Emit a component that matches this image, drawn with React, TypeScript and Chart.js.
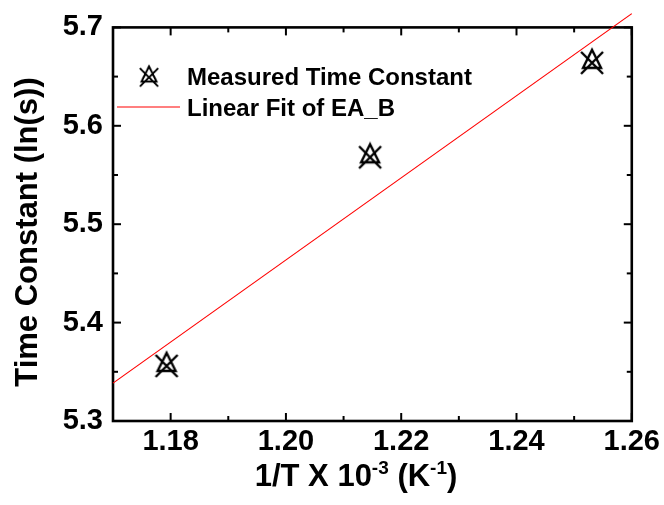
import React, { useEffect, useRef } from "react";
import { Chart, registerables } from "chart.js";

Chart.register(...registerables);

// ---- data ----
const xValues = [1.1793, 1.2146, 1.2531];
const timeConstant = [5.357, 5.569, 5.665];
const fitX = [1.17, 1.26];
const fitY = [5.3385, 5.714];

const xMajorTicks = [1.18, 1.2, 1.22, 1.24, 1.26];
const xMinorTicks = [1.19, 1.21, 1.23, 1.25];
const yMajorTicks = [5.3, 5.4, 5.5, 5.6, 5.7];
const yMinorTicks = [5.35, 5.45, 5.55, 5.65];

const seriesLabels = ["Measured Time Constant", "Linear Fit of EA_B"];
const yTitle = "Time Constant (ln(s))";
const xTitleParts = [
  { text: "1/T X 10", sup: false },
  { text: "-3", sup: true },
  { text: " (K", sup: false },
  { text: "-1", sup: true },
  { text: ")", sup: false },
];

const FONT = "'Liberation Sans', Arial, Helvetica, sans-serif";

function makeMarker(): HTMLCanvasElement {
  const c = document.createElement("canvas");
  const s = 30;
  c.width = s;
  c.height = s;
  const g = c.getContext("2d")!;
  g.strokeStyle = "#000";
  g.lineWidth = 2.4;
  g.lineJoin = "miter";
  const cx = 15;
  const cy = 15;
  g.beginPath();
  g.moveTo(cx - 11, cy - 10);
  g.lineTo(cx + 11, cy + 12);
  g.moveTo(cx + 11, cy - 10);
  g.lineTo(cx - 11, cy + 12);
  g.stroke();
  g.beginPath();
  g.moveTo(cx, cy - 12);
  g.lineTo(cx + 9, cy + 6);
  g.lineTo(cx - 9, cy + 6);
  g.closePath();
  g.stroke();
  return c;
}

export default function App() {
  const ref = useRef<HTMLCanvasElement>(null);

  useEffect(() => {
    const marker = makeMarker();

    const decorPlugin = {
      id: "decor",
      beforeDatasetsDraw(chart: any) {
        const { ctx, chartArea: a, scales } = chart;
        const x = scales.x;
        const y = scales.y;
        ctx.save();
        ctx.strokeStyle = "#000";
        ctx.lineWidth = 2.6;
        ctx.strokeRect(a.left, a.top, a.right - a.left, a.bottom - a.top);
        ctx.lineWidth = 2;
        const seg = (x1: number, y1: number, x2: number, y2: number) => {
          ctx.beginPath();
          ctx.moveTo(x1, y1);
          ctx.lineTo(x2, y2);
          ctx.stroke();
        };
        const xt = (vals: number[], len: number) =>
          vals.forEach((v) => {
            const p = x.getPixelForValue(v);
            seg(p, a.bottom, p, a.bottom - len);
            seg(p, a.top, p, a.top + len);
          });
        const yt = (vals: number[], len: number) =>
          vals.forEach((v) => {
            const p = y.getPixelForValue(v);
            seg(a.left, p, a.left + len, p);
            seg(a.right, p, a.right - len, p);
          });
        xt(xMajorTicks, 8);
        xt(xMinorTicks, 5);
        yt(yMajorTicks, 8);
        yt(yMinorTicks, 5);
        ctx.restore();
      },
      afterDraw(chart: any) {
        const { ctx } = chart;
        ctx.save();
        ctx.fillStyle = "#000";
        // y title
        ctx.save();
        ctx.translate(37, 232);
        ctx.rotate(-Math.PI / 2);
        ctx.font = `bold 31px ${FONT}`;
        ctx.textAlign = "center";
        ctx.textBaseline = "alphabetic";
        ctx.fillText(yTitle, 0, 0);
        ctx.restore();

        // x title with superscripts
        const mainFont = `bold 31px ${FONT}`;
        const supFont = `bold 19px ${FONT}`;
        let total = 0;
        xTitleParts.forEach((p) => {
          ctx.font = p.sup ? supFont : mainFont;
          total += ctx.measureText(p.text).width;
        });
        let cx = 356 - total / 2;
        ctx.textAlign = "left";
        ctx.textBaseline = "alphabetic";
        xTitleParts.forEach((p) => {
          ctx.font = p.sup ? supFont : mainFont;
          ctx.fillText(p.text, cx, p.sup ? 474 : 486);
          cx += ctx.measureText(p.text).width;
        });

        // legend
        const ds = chart.data.datasets;
        ctx.drawImage(marker, 149 - 12.5, 76.5 - 12.5, 25, 25);
        ctx.strokeStyle = ds[1].borderColor;
        ctx.lineWidth = 1.2;
        ctx.beginPath();
        ctx.moveTo(117, 107);
        ctx.lineTo(180, 107);
        ctx.stroke();
        ctx.font = `bold 24px ${FONT}`;
        ctx.fillStyle = "#000";
        ctx.fillText(ds[0].label, 187, 85);
        ctx.fillText(ds[1].label, 187, 116);
        ctx.restore();
      },
    };

    const chart = new Chart(ref.current!, {
      type: "scatter",
      data: {
        datasets: [
          {
            label: seriesLabels[0],
            data: xValues.map((v, i) => ({ x: v, y: timeConstant[i] })),
            pointStyle: marker as any,
            pointRadius: 12,
            showLine: false,
          },
          {
            label: seriesLabels[1],
            data: fitX.map((v, i) => ({ x: v, y: fitY[i] })),
            showLine: true,
            borderColor: "#ff0000",
            borderWidth: 1.2,
            pointRadius: 0,
            clip: false as any,
          },
        ],
      },
      options: {
        animation: false,
        responsive: false,
        devicePixelRatio: 1,
        layout: { padding: { top: 22, right: 32, left: 0, bottom: 0 } },
        plugins: { legend: { display: false }, tooltip: { enabled: false } },
        events: [],
        scales: {
          x: {
            type: "linear",
            min: 1.17,
            max: 1.26,
            afterBuildTicks: (axis: any) => {
              axis.ticks = xMajorTicks.map((v) => ({ value: v }));
            },
            afterFit: (scale: any) => {
              scale.height = 84;
            },
            grid: { display: false, drawTicks: false },
            border: { display: false },
            ticks: {
              autoSkip: false,
              maxRotation: 0,
              padding: 4,
              color: "#000",
              font: { family: FONT, size: 29, weight: "bold" },
              callback: (v: any) => Number(v).toFixed(2),
            },
          },
          y: {
            type: "linear",
            min: 5.3,
            max: 5.7,
            afterBuildTicks: (axis: any) => {
              axis.ticks = yMajorTicks.map((v) => ({ value: v }));
            },
            afterFit: (scale: any) => {
              scale.width = 113;
            },
            grid: { display: false, drawTicks: false },
            border: { display: false },
            ticks: {
              autoSkip: false,
              padding: 10,
              color: "#000",
              font: { family: FONT, size: 29, weight: "bold" },
              callback: (v: any) => Number(v).toFixed(1),
            },
          },
        },
      } as any,
      plugins: [decorPlugin],
    });

    return () => chart.destroy();
  }, []);

  return (
    <div style={{ width: 648, height: 489 }}>
      <canvas
        ref={ref}
        width={664}
        height={505}
        style={{ position: "absolute", left: 0, top: 0, width: 664, height: 505 }}
      />
    </div>
  );
}
